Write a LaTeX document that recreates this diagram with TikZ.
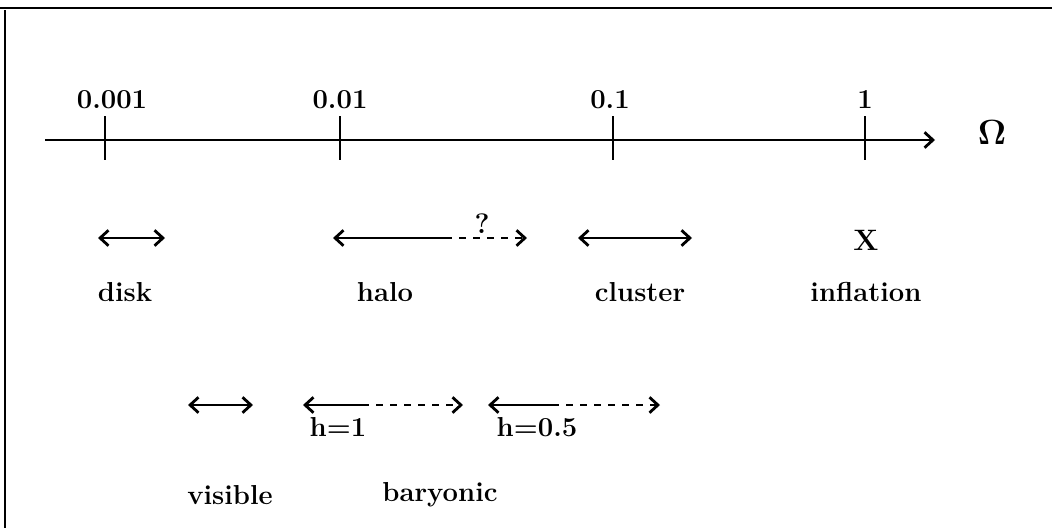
\documentclass[tikz,border=0pt]{standalone}
\usepackage{amsmath}
\usepackage{amssymb}
\usepackage{fontspec}
\usepackage{tikz}
\usetikzlibrary{positioning,arrows.meta}

\tikzset{
  lbl/.style={font=\fontsize{19.5}{23}\selectfont\bfseries, inner sep=1pt},
  rng/.style={line width=1.3pt, -{Straight Barb[length=6pt,width=11pt,line width=2pt]}},
  rngd/.style={rng, dash pattern=on 5pt off 5pt},
  both/.style={line width=1.3pt, {Straight Barb[length=6pt,width=11pt,line width=2pt]}-{Straight Barb[length=6pt,width=11pt,line width=2pt]}},
  tick/.style={line width=1.4pt}
}

\begin{document}
\begin{tikzpicture}[x=0.025cm,y=-0.025cm]
\useasboundingbox (0,0) rectangle (1052,528);
% frame
\draw[line width=1.6pt] (0,8) -- (1052,8);
\draw[line width=1.2pt] (5,10) -- (5,528);

% axis
\coordinate (ax_l) at (45,140);
\coordinate (ax_r) at (935,140);
\draw[rng] (ax_l) -- (ax_r);
\node[lbl, font=\fontsize{24}{28}\selectfont\bfseries] (omega) at (992,132) {$\boldsymbol{\Omega}$};

\foreach \x/\v/\n in {112/0.001/t_a, 340/0.01/t_b, 610/0.1/t_c, 865/1/t_d} {
  \node[lbl] (\n_lab) at (\x,100) {\v};
}
\foreach \x/\n in {105/t_a, 340/t_b, 613/t_c, 865/t_d} {
  \coordinate (\n) at (\x,140);
  \draw[tick] ([yshift=-14]\n) -- ([yshift=17]\n);
}

% first row
\coordinate (disk_l) at (98,238);
\coordinate (disk_r) at (165,238);
\coordinate (halo_l) at (333,238);
\coordinate (halo_m) at (445,238);
\coordinate (halo_r) at (527,238);
\coordinate (clus_l) at (578,238);
\coordinate (clus_r) at (692,238);

\draw[both] (disk_l) -- (disk_r);
\draw[rng] (halo_m) -- (halo_l);
\draw[rngd] (halo_m) -- (halo_r);
\node[lbl, font=\fontsize{20}{24}\selectfont\bfseries] (quest) at (482,224) {?};
\draw[both] (clus_l) -- (clus_r);
\node[lbl, font=\fontsize{21}{24}\selectfont\bfseries] (chi) at (866,240) {X};

\node[lbl] (disk) at (125,292) {disk};
\node[lbl] (halo) at (385,292) {halo};
\node[lbl] (cluster) at (640,292) {cluster};
\node[lbl] (inflation) at (866,292) {inflation};

% second row
\coordinate (vis_l) at (188,405);
\coordinate (vis_r) at (253,405);
\coordinate (h1_l) at (303,405);
\coordinate (h1_m) at (362,405);
\coordinate (h1_r) at (463,405);
\coordinate (h2_l) at (488,405);
\coordinate (h2_m) at (552,405);
\coordinate (h2_r) at (660,405);

\draw[both] (vis_l) -- (vis_r);
\draw[rng] (h1_m) -- (h1_l);
\draw[rngd] (h1_m) -- (h1_r);
\draw[rng] (h2_m) -- (h2_l);
\draw[rngd] (h2_m) -- (h2_r);
\node[lbl] (h_one) at (338,427) {h=1};
\node[lbl] (h_half) at (537,427) {h=0.5};

\node[lbl] (visible) at (230,495) {visible};
\node[lbl] (baryonic) at (440,495) {baryonic};
\end{tikzpicture}
\end{document}
